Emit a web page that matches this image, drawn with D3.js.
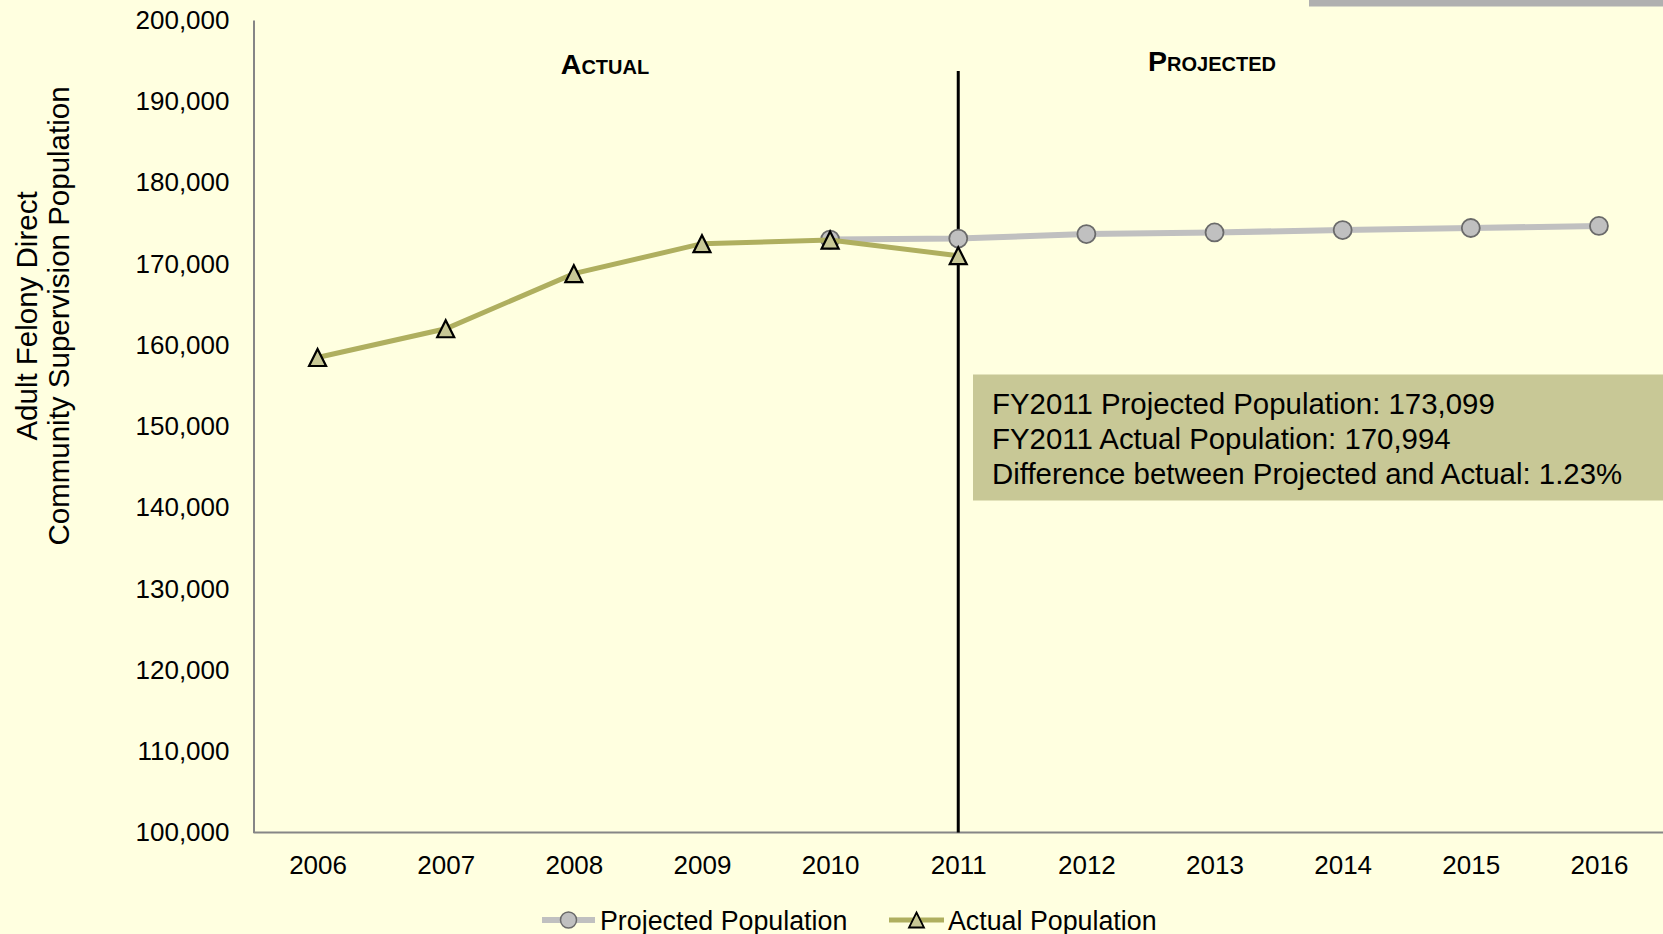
<!DOCTYPE html>
<html>
<head>
<meta charset="utf-8">
<script src="https://cdn.jsdelivr.net/npm/d3@7"></script>
<style>
  body { margin: 0; background: #ffffe0; }
  svg { display: block; font-family: "Liberation Sans", Arial, sans-serif; }
</style>
</head>
<body>
<div id="chart"></div>
<script>
// years on the x axis
const years = [2006, 2007, 2008, 2009, 2010, 2011, 2012, 2013, 2014, 2015, 2016];

// actual population, 2006-2011
const actualYears = [2006, 2007, 2008, 2009, 2010, 2011];
const actualValues = [158460, 162000, 168780, 172470, 172920, 170994];

// projected population, 2010-2016
const projYears = [2010, 2011, 2012, 2013, 2014, 2015, 2016];
const projValues = [172980, 173099, 173650, 173850, 174150, 174400, 174650];

const yTicks = [100000, 110000, 120000, 130000, 140000, 150000, 160000, 170000, 180000, 190000, 200000];

const noteLines = [
  "FY2011 Projected Population: 173,099",
  "FY2011 Actual Population: 170,994",
  "Difference between Projected and Actual: 1.23%"
];

const W = 1663, H = 934;
const plot = {left: 253.5, right: 1663, top: 20, bottom: 832.5};

const svg = d3.select("#chart").append("svg")
  .attr("width", W)
  .attr("height", H);

svg.append("rect").attr("width", W).attr("height", H).attr("fill", "#ffffe0");

// grey strip at the top right
svg.append("rect")
  .attr("x", 1309).attr("y", 0)
  .attr("width", W - 1309).attr("height", 6.5)
  .attr("fill", "#b0b0b0");

const x = d3.scalePoint()
  .domain(years)
  .range([plot.left, plot.right])
  .padding(0.5);

const y = d3.scaleLinear()
  .domain([100000, 200000])
  .range([plot.bottom, plot.top]);

// y axis
const yAxis = svg.append("g")
  .attr("transform", "translate(" + plot.left + ",0)")
  .call(d3.axisLeft(y).tickValues(yTicks).tickFormat(d3.format(",")).tickSize(0).tickPadding(24));
yAxis.select(".domain").attr("stroke", "#868686").attr("stroke-width", 2);
yAxis.selectAll("text").attr("font-size", 26).attr("fill", "#000");

// x axis
const xAxis = svg.append("g")
  .attr("transform", "translate(0," + plot.bottom + ")")
  .call(d3.axisBottom(x).tickSize(0).tickPadding(23));
xAxis.select(".domain")
  .attr("d", "M" + plot.left + ",0H" + plot.right)
  .attr("stroke", "#868686").attr("stroke-width", 2);
xAxis.selectAll("text").attr("font-size", 26).attr("fill", "#000");

// y axis title
svg.append("text")
  .attr("transform", "translate(37,316) rotate(-90)")
  .attr("text-anchor", "middle")
  .attr("font-size", 29.5)
  .text("Adult Felony Direct");
svg.append("text")
  .attr("transform", "translate(69,316) rotate(-90)")
  .attr("text-anchor", "middle")
  .attr("font-size", 29.5)
  .text("Community Supervision Population");

// divider at 2011
svg.append("line")
  .attr("x1", x(2011)).attr("x2", x(2011))
  .attr("y1", 71).attr("y2", plot.bottom)
  .attr("stroke", "#000").attr("stroke-width", 3);

// section labels
svg.append("text")
  .attr("x", 605).attr("y", 74)
  .attr("text-anchor", "middle")
  .attr("font-size", 28.5).attr("font-weight", "bold")
  .style("font-variant", "small-caps")
  .text("Actual");
svg.append("text")
  .attr("x", 1212).attr("y", 71)
  .attr("text-anchor", "middle")
  .attr("font-size", 28.5).attr("font-weight", "bold")
  .style("font-variant", "small-caps")
  .text("Projected");

const line = d3.line()
  .x(d => x(d[0]))
  .y(d => y(d[1]));

const projData = projYears.map((yr, i) => [yr, projValues[i]]);
const actData = actualYears.map((yr, i) => [yr, actualValues[i]]);

// projected series
svg.append("path")
  .datum(projData)
  .attr("d", line)
  .attr("fill", "none")
  .attr("stroke", "#c0c0c0")
  .attr("stroke-width", 6);
svg.selectAll(".proj-pt")
  .data(projData)
  .enter().append("circle")
  .attr("class", "proj-pt")
  .attr("cx", d => x(d[0]))
  .attr("cy", d => y(d[1]))
  .attr("r", 9)
  .attr("fill", "#c0c0c0")
  .attr("stroke", "#6a6a6a")
  .attr("stroke-width", 1.8);

// actual series
svg.append("path")
  .datum(actData)
  .attr("d", line)
  .attr("fill", "none")
  .attr("stroke", "#afaf5f")
  .attr("stroke-width", 5);

// triangle marker centred on its bounding box
const triPath = (hw, h) => "M0," + (-h / 2) + "L" + hw + "," + (h / 2) + "L" + (-hw) + "," + (h / 2) + "Z";
svg.selectAll(".act-pt")
  .data(actData)
  .enter().append("path")
  .attr("class", "act-pt")
  .attr("transform", d => "translate(" + x(d[0]) + "," + y(d[1]) + ")")
  .attr("d", triPath(8.5, 17))
  .attr("fill", "#c8c896")
  .attr("stroke", "#000")
  .attr("stroke-width", 2.2)
  .attr("stroke-linejoin", "miter");

// annotation box
svg.append("rect")
  .attr("x", 973).attr("y", 374.5)
  .attr("width", W - 973).attr("height", 126)
  .attr("fill", "#c8c896");
svg.selectAll(".note")
  .data(noteLines)
  .enter().append("text")
  .attr("class", "note")
  .attr("x", 992)
  .attr("y", (d, i) => 413.5 + i * 35)
  .attr("font-size", 29.4)
  .text(d => d);

// legend
const legend = svg.append("g").attr("transform", "translate(0,920)");
legend.append("line")
  .attr("x1", 542).attr("x2", 595).attr("y1", 0).attr("y2", 0)
  .attr("stroke", "#c0c0c0").attr("stroke-width", 6);
legend.append("circle")
  .attr("cx", 568.5).attr("cy", 0).attr("r", 8)
  .attr("fill", "#c0c0c0").attr("stroke", "#6a6a6a").attr("stroke-width", 1.5);
legend.append("text")
  .attr("x", 600).attr("y", 9.5)
  .attr("font-size", 26.8)
  .text("Projected Population");

legend.append("line")
  .attr("x1", 889).attr("x2", 944).attr("y1", 0).attr("y2", 0)
  .attr("stroke", "#afaf5f").attr("stroke-width", 5);
legend.append("path")
  .attr("transform", "translate(916.5,0)")
  .attr("d", triPath(7.5, 15))
  .attr("fill", "#c8c896").attr("stroke", "#000").attr("stroke-width", 1.8);
legend.append("text")
  .attr("x", 948).attr("y", 9.5)
  .attr("font-size", 26.8)
  .text("Actual Population");
</script>
</body>
</html>
